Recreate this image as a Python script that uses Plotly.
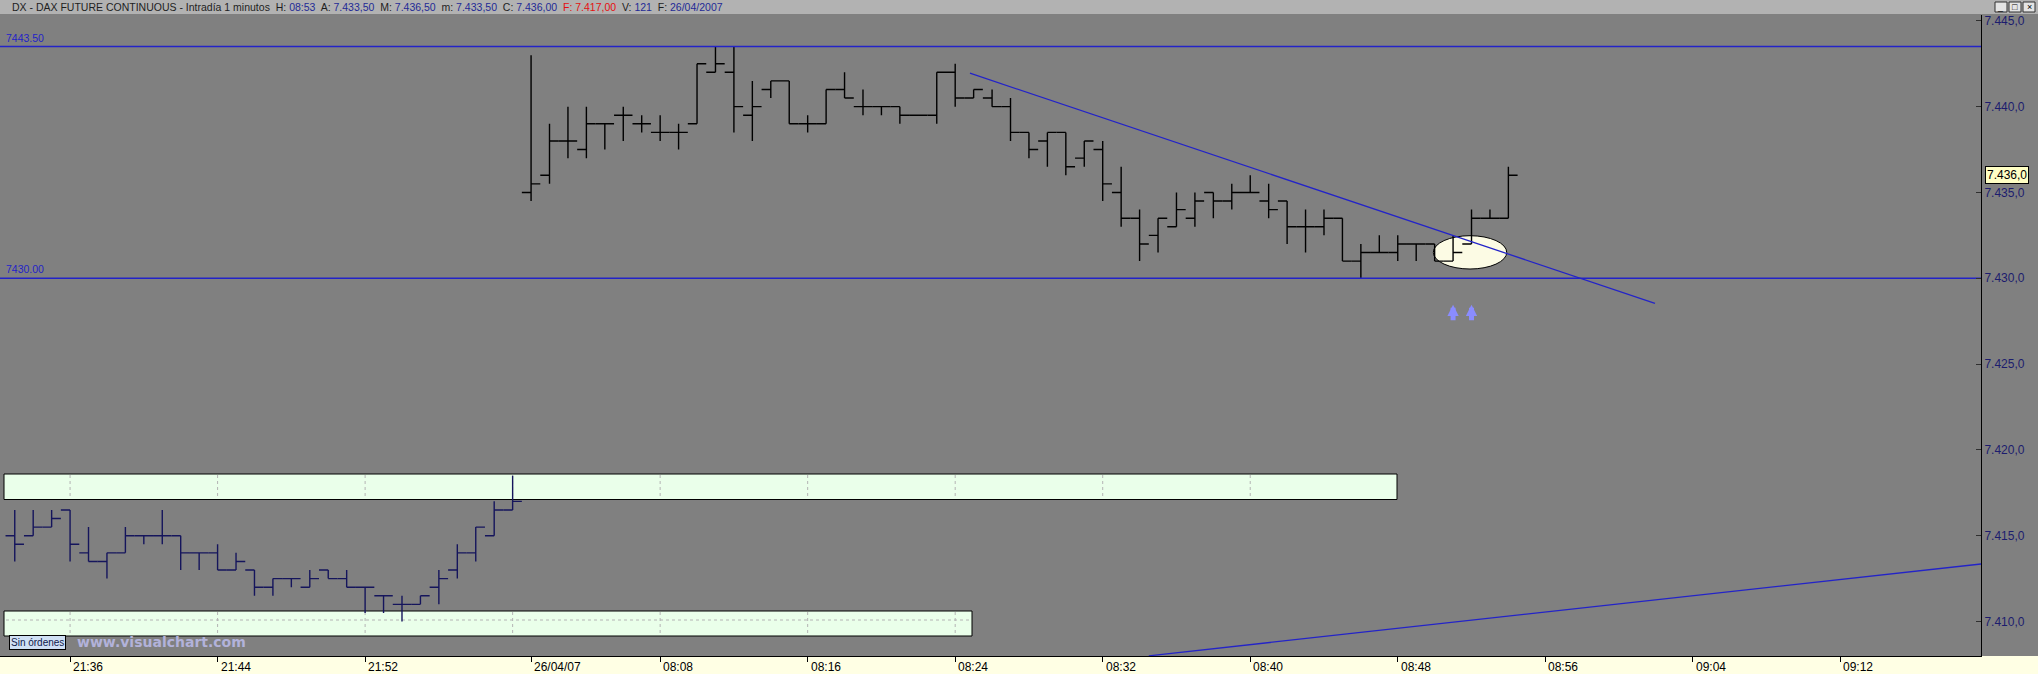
import plotly.graph_objects as go

# DAX future, 1 minute bars. x = bar index (21:36 -> 0, first bar of 26/04 -> 25)
prev_x = list(range(-3, 25))
prev_open = [7415.0, 7415.0, 7415.5, 7416.5, 7414.0, 7413.5, 7414.0, 7415.0, 7415.0, 7415.0,
             7414.0, 7414.0, 7413.0, 7413.0, 7412.0, 7412.5, 7412.0, 7413.0, 7412.5, 7412.0,
             7411.5, 7411.0, 7411.0, 7412.0, 7413.0, 7414.0, 7415.0, 7416.5]
prev_high = [7416.5, 7416.5, 7416.5, 7416.5, 7415.5, 7414.0, 7415.5, 7415.0, 7416.5, 7415.0,
             7414.0, 7414.5, 7414.0, 7413.0, 7412.5, 7412.5, 7413.0, 7413.0, 7413.0, 7412.0,
             7411.5, 7411.5, 7411.5, 7413.0, 7414.5, 7415.5, 7417.0, 7418.5]
prev_low = [7413.5, 7415.0, 7415.5, 7413.5, 7413.5, 7412.5, 7414.0, 7414.5, 7414.5, 7413.0,
            7413.0, 7413.0, 7413.0, 7411.5, 7411.5, 7412.0, 7412.0, 7412.5, 7412.0, 7410.5,
            7410.5, 7410.0, 7411.0, 7411.0, 7412.5, 7413.5, 7415.0, 7416.5]
prev_close = [7414.5, 7415.5, 7416.0, 7414.5, 7413.5, 7414.0, 7415.0, 7415.0, 7415.0, 7414.0,
              7414.0, 7413.0, 7413.5, 7412.0, 7412.5, 7412.5, 7412.5, 7412.5, 7412.0, 7412.0,
              7411.5, 7411.0, 7411.5, 7412.5, 7414.0, 7415.5, 7416.5, 7417.0]

day_x = list(range(25, 79))
day_open = [7435.0, 7436.0, 7438.0, 7437.5, 7439.0, 7439.5, 7439.0, 7438.5, 7438.5, 7439.0,
            7442.0, 7442.0, 7439.5, 7441.0, 7441.5, 7439.0, 7439.0, 7441.0, 7440.0, 7440.0,
            7440.0, 7439.5, 7439.5, 7442.0, 7440.5, 7440.5, 7440.0, 7438.5, 7438.0, 7438.5,
            7437.0, 7437.5, 7435.0, 7433.5, 7432.5, 7433.0, 7433.5, 7435.0, 7434.5, 7435.0,
            7434.5, 7434.5, 7433.0, 7433.0, 7433.5, 7431.0, 7431.5, 7431.5, 7432.0, 7432.0,
            7431.0, 7432.0, 7433.5, 7433.5]
day_high = [7443.0, 7439.0, 7440.0, 7440.0, 7439.0, 7440.0, 7439.5, 7439.5, 7439.0, 7442.5,
            7443.5, 7443.5, 7441.5, 7441.5, 7441.5, 7439.5, 7441.0, 7442.0, 7441.0, 7440.0,
            7440.0, 7439.5, 7442.0, 7442.5, 7441.0, 7441.0, 7440.5, 7438.5, 7438.5, 7438.5,
            7438.0, 7438.0, 7436.5, 7434.0, 7433.5, 7435.0, 7435.0, 7435.0, 7435.5, 7436.0,
            7435.5, 7434.5, 7434.0, 7434.0, 7433.5, 7432.0, 7432.5, 7432.5, 7432.0, 7432.0,
            7432.5, 7434.0, 7434.0, 7436.5]
day_low = [7434.5, 7435.5, 7437.0, 7437.0, 7437.5, 7438.0, 7438.5, 7438.0, 7437.5, 7439.0,
           7442.0, 7438.5, 7438.0, 7440.5, 7439.0, 7438.5, 7439.0, 7440.5, 7439.5, 7439.5,
           7439.0, 7439.5, 7439.0, 7440.0, 7440.5, 7440.0, 7438.0, 7437.0, 7436.5, 7436.0,
           7436.5, 7434.5, 7433.0, 7431.0, 7431.5, 7433.0, 7433.0, 7433.5, 7434.0, 7435.0,
           7433.5, 7432.0, 7431.5, 7432.5, 7431.0, 7430.0, 7431.5, 7431.0, 7431.0, 7431.0,
           7431.0, 7432.0, 7433.5, 7433.5]
day_close = [7435.5, 7438.0, 7438.0, 7439.0, 7439.0, 7439.5, 7439.0, 7438.5, 7438.5, 7442.5,
             7442.5, 7440.0, 7440.0, 7441.5, 7439.0, 7439.0, 7441.0, 7440.5, 7440.0, 7440.0,
             7439.5, 7439.5, 7442.0, 7440.5, 7441.0, 7440.0, 7438.5, 7437.5, 7438.5, 7436.5,
             7438.0, 7435.5, 7433.5, 7432.0, 7433.5, 7434.0, 7434.5, 7434.5, 7435.0, 7435.0,
             7434.0, 7433.0, 7433.0, 7433.5, 7431.0, 7431.5, 7431.5, 7432.0, 7432.0, 7431.0,
             7431.5, 7433.5, 7433.5, 7436.0]

tick_pos = [0, 8, 16, 25, 32, 40, 48, 56, 64, 72, 80, 88, 96]
tick_text = ["21:36", "21:44", "21:52", "26/04/07", "08:08", "08:16", "08:24",
             "08:32", "08:40", "08:48", "08:56", "09:04", "09:12"]
grid_pos = [0, 8, 16, 24, 32, 40, 48, 56, 64, 72]

price_ticks = [7410, 7415, 7420, 7425, 7430, 7435, 7440, 7445]
price_text = ["7.410,0", "7.415,0", "7.420,0", "7.425,0", "7.430,0", "7.435,0", "7.440,0", "7.445,0"]

levels = [7443.5, 7430.0]
level_text = ["7443.50", "7430.00"]
trend_down_x = [48.8, 85.95]
trend_down_y = [7441.95, 7428.54]
trend_up_x = [58.5, 103.63]
trend_up_y = [7408.0, 7413.35]
ellipse_x = [73.93, 77.91]
ellipse_y = [7430.54, 7432.48]
arrow_x = [75, 76]
arrow_y = 7428.45
prev_settle = 7417.0
volume = 121

X_RANGE = [-3.80, 103.63]
Y_RANGE = [7407.99, 7445.34]

W, H = 2038, 674
PL, PR, PT, PB = 0, 1981, 15, 656  # plot area in px


def fx(px):
    return (px - PL) / (PR - PL)


def fy(py):
    return (PB - py) / (PB - PT)


def es(v, d=2):
    # spanish number format 7.433,50
    s = f"{v:,.{d}f}"
    return s.replace(",", "X").replace(".", ",").replace("X", ".")


BLUE = "#2323c8"
NAVY = "#15155c"

fig = go.Figure()

fig.add_trace(go.Ohlc(
    x=prev_x, open=prev_open, high=prev_high, low=prev_low, close=prev_close,
    increasing=dict(line=dict(color=NAVY, width=1.4)),
    decreasing=dict(line=dict(color=NAVY, width=1.4)),
    tickwidth=0.5, showlegend=False, name="25/04/07"))

fig.add_trace(go.Ohlc(
    x=day_x, open=day_open, high=day_high, low=day_low, close=day_close,
    increasing=dict(line=dict(color="black", width=1.4)),
    decreasing=dict(line=dict(color="black", width=1.4)),
    tickwidth=0.5, showlegend=False, name="26/04/07"))

for lv, lt in zip(levels, level_text):
    fig.add_trace(go.Scatter(x=X_RANGE, y=[lv, lv], mode="lines",
                             line=dict(color=BLUE, width=1.5), showlegend=False, hoverinfo="skip"))
    fig.add_annotation(x=fx(4), xref="paper", y=lv, yref="y", text=lt,
                       showarrow=False, xanchor="left", yanchor="bottom", yshift=1,
                       font=dict(family="Arial", size=10.5, color=BLUE))

fig.add_trace(go.Scatter(x=trend_down_x, y=trend_down_y, mode="lines",
                         line=dict(color=BLUE, width=1.3), showlegend=False, hoverinfo="skip"))
fig.add_trace(go.Scatter(x=trend_up_x, y=trend_up_y, mode="lines",
                         line=dict(color=BLUE, width=1.3), showlegend=False, hoverinfo="skip"))

shapes = []
# title bar and bottom strip
shapes.append(dict(type="rect", xref="paper", yref="paper", x0=fx(0), x1=fx(W), y0=fy(0), y1=fy(14),
                   fillcolor="#b2b2b2", line=dict(width=0), layer="below"))
shapes.append(dict(type="rect", xref="paper", yref="paper", x0=fx(0), x1=fx(W), y0=fy(PB), y1=fy(H + 2),
                   fillcolor="#ffffe4", line=dict(width=0), layer="below"))
# window buttons
for bx in [1995, 2009, 2023]:
    shapes.append(dict(type="rect", xref="paper", yref="paper", x0=fx(bx), x1=fx(bx + 12), y0=fy(2), y1=fy(12),
                       fillcolor="#e4e4e4", line=dict(color="#303030", width=1), layer="above"))

# panels
panels = [(4, 1397, 474, 499.5), (4, 972, 611, 636)]
for x0, x1, y0, y1 in panels:
    shapes.append(dict(type="rect", xref="paper", yref="paper", x0=fx(x0), x1=fx(x1), y0=fy(y0), y1=fy(y1),
                       fillcolor="#eaffea", line=dict(color="black", width=1), layer="below"))
    for g in grid_pos:
        gx = (g - X_RANGE[0]) / (X_RANGE[1] - X_RANGE[0])
        if fx(x0) < gx < fx(x1):
            shapes.append(dict(type="line", xref="paper", yref="paper", x0=gx, x1=gx, y0=fy(y0 + 1), y1=fy(y1 - 1),
                               line=dict(color="#b4b4b4", width=1, dash="dot"), layer="below"))
shapes.append(dict(type="line", xref="paper", yref="paper", x0=fx(6), x1=fx(970), y0=fy(620), y1=fy(620),
                   line=dict(color="#b4b4b4", width=1, dash="dot"), layer="below"))

# ellipse
shapes.append(dict(type="circle", xref="x", yref="y", x0=ellipse_x[0], x1=ellipse_x[1],
                   y0=ellipse_y[0], y1=ellipse_y[1], fillcolor="#fcfbe4",
                   line=dict(color="black", width=1), layer="below"))

fig.update_layout(shapes=shapes)

for ax in arrow_x:
    fig.add_annotation(x=ax, y=arrow_y, xref="x", yref="y", ax=0, ay=17, text="",
                       showarrow=True, arrowhead=2, arrowsize=0.45, arrowwidth=5, arrowcolor="#8a8cff")

# x tick labels, left aligned at the tick
for tp, tt in zip(tick_pos, tick_text):
    fig.add_annotation(x=tp, xref="x", y=fy(658), yref="paper", text=tt, showarrow=False,
                       xanchor="left", yanchor="top", xshift=1,
                       font=dict(family="Arial", size=12, color="black"))

# header
lab = "#1e1e1e"
val = "#1f2a96"
hdr = (f"DX - DAX FUTURE CONTINUOUS - Intradía 1 minutos&nbsp; H: <span style='color:{val}'>08:53</span>&nbsp; "
       f"A: <span style='color:{val}'>{es(day_open[-1])}</span>&nbsp; "
       f"M: <span style='color:{val}'>{es(day_high[-1])}</span>&nbsp; "
       f"m: <span style='color:{val}'>{es(day_low[-1])}</span>&nbsp; "
       f"C: <span style='color:{val}'>{es(day_close[-1])}</span>&nbsp; "
       f"<span style='color:#e41010'>F: {es(prev_settle)}</span>&nbsp; "
       f"V: <span style='color:{val}'>{volume}</span>&nbsp; "
       f"F: <span style='color:{val}'>26/04/2007</span>")
fig.add_annotation(x=fx(10), y=fy(7), xref="paper", yref="paper", text=hdr, showarrow=False,
                   xanchor="left", yanchor="middle", font=dict(family="Arial", size=10.5, color=lab))
for bx, g in zip([1995, 2009, 2023], ["_", "□", "×"]):
    fig.add_annotation(x=fx(bx + 6), y=fy(7), xref="paper", yref="paper", text=g, showarrow=False,
                       xanchor="center", yanchor="middle", font=dict(family="Arial", size=9, color="black"))

# current price label
fig.add_annotation(x=fx(1985), xref="paper", y=day_close[-1], yref="y", text=es(day_close[-1], 1),
                   showarrow=False, xanchor="left", yanchor="middle", bgcolor="#ffffc4",
                   bordercolor="black", borderwidth=1, borderpad=1,
                   font=dict(family="Arial", size=12, color="black"))

# order panel label and watermark
fig.add_annotation(x=fx(9), y=fy(642.5), xref="paper", yref="paper", text="Sin órdenes", showarrow=False,
                   xanchor="left", yanchor="middle", bgcolor="#cfe0f4", bordercolor="black",
                   borderwidth=1, borderpad=1, font=dict(family="Arial", size=10, color="#10204c"))
fig.add_annotation(x=fx(75), y=fy(642), xref="paper", yref="paper", text="<b>www.visualchart.com</b>",
                   showarrow=False, xanchor="left", yanchor="middle",
                   font=dict(family="Verdana, DejaVu Sans", size=14, color="#b2b2da"))

fig.update_xaxes(range=X_RANGE, rangeslider_visible=False, showgrid=False, zeroline=False,
                 tickvals=tick_pos, ticktext=tick_text, showticklabels=False,
                 ticks="outside", ticklen=5, tickcolor="black", tickwidth=1,
                 showline=True, linecolor="black", linewidth=1)
fig.update_yaxes(range=Y_RANGE, side="right", showgrid=False, zeroline=False,
                 tickvals=price_ticks, ticktext=price_text, ticks="inside", ticklen=5,
                 tickcolor="#303030", showline=True, linecolor="black", linewidth=1,
                 tickfont=dict(family="Arial", size=12, color="#1c1c6e"))

fig.update_layout(
    width=W, height=H, autosize=False,
    margin=dict(l=PL, r=W - PR, t=PT, b=H - PB, pad=0),
    paper_bgcolor="#808080", plot_bgcolor="rgba(0,0,0,0)",
    showlegend=False, dragmode=False,
)

fig.write_html("out.html", config={"displayModeBar": False},
               post_script="document.body.style.margin='0';document.body.style.overflow='hidden';")
